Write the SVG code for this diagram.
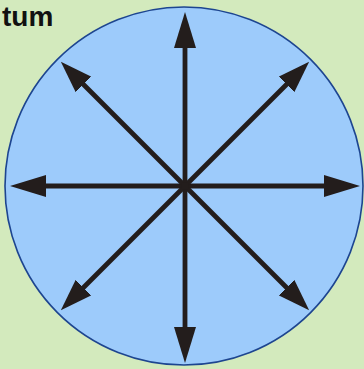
<svg xmlns="http://www.w3.org/2000/svg" width="364" height="369" viewBox="0 0 364 369">
<style>
.bg{fill:#d3eabd}
.disk{fill:#9dcbfb;stroke:#1d4590;stroke-width:1.6}
.ray{stroke:#231d1c;stroke-width:4.8;fill:none}
.title{font-family:"Liberation Sans",Arial,sans-serif;font-weight:bold;font-size:28px;fill:#111}
</style>
<defs>
<marker id="hd" markerUnits="userSpaceOnUse" markerWidth="36" markerHeight="22" refX="14" refY="11" orient="auto" viewBox="0 0 36 22">
<path d="M0,0 L36,11 L0,22 Z" fill="#231d1c"/>
</marker>
<marker id="hs" markerUnits="userSpaceOnUse" markerWidth="32" markerHeight="22" refX="12" refY="11" orient="auto" viewBox="0 0 32 22">
<path d="M0,0 L32,11 L0,22 Z" fill="#231d1c"/>
</marker>
</defs>
<rect class="bg" x="0" y="0" width="364" height="369"/>
<g id="title"><text class="title" x="2" y="26">tum</text></g>
<g id="disk"><circle class="disk" cx="184" cy="186" r="179"/></g>
<g id="connectors">
<line class="ray" x1="185" y1="186" x2="185" y2="34" marker-end="url(#hd)"/>
<line class="ray" x1="185" y1="186" x2="185" y2="341" marker-end="url(#hd)"/>
<line class="ray" x1="185" y1="186" x2="32" y2="186" marker-end="url(#hd)"/>
<line class="ray" x1="185" y1="186" x2="338" y2="186" marker-end="url(#hd)"/>
<line class="ray" x1="185" y1="186" x2="75" y2="76" marker-end="url(#hs)"/>
<line class="ray" x1="185" y1="186" x2="295" y2="76" marker-end="url(#hs)"/>
<line class="ray" x1="185" y1="186" x2="75" y2="296" marker-end="url(#hs)"/>
<line class="ray" x1="185" y1="186" x2="295" y2="296" marker-end="url(#hs)"/>
<circle cx="185" cy="186" r="4" fill="#231d1c"/>
</g>
</svg>
